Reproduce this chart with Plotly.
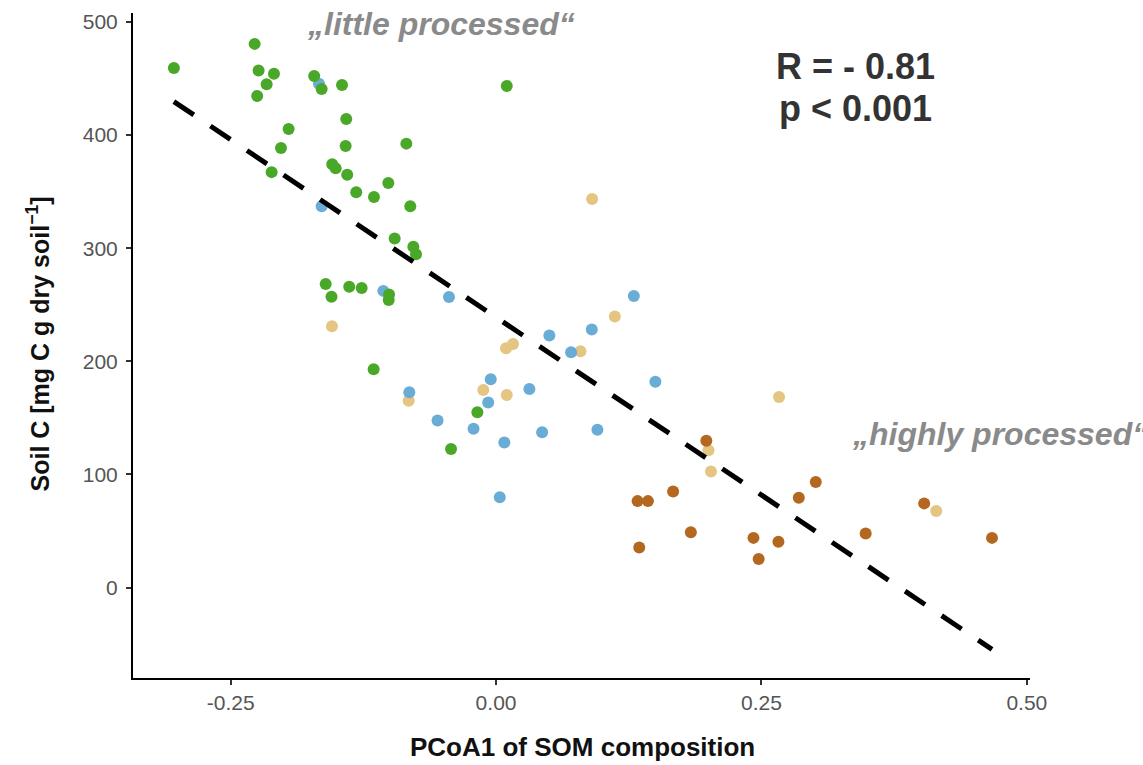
import plotly.graph_objects as go

# PCoA1 score vs soil carbon, grouped by sample class
green_x = [-0.3035, -0.2274, -0.2237, -0.2092, -0.2161, -0.2250, -0.1713, -0.1643, -0.1451,
           0.0101, -0.1411, -0.1954, -0.2026, -0.1417, -0.0845, -0.2114, -0.1543, -0.1511,
           -0.1402, -0.1317, -0.1015, -0.1150, -0.0808, -0.0955, -0.0779, -0.0754, -0.1605,
           -0.1383, -0.1266, -0.1008, -0.1011, -0.1550, -0.1153, -0.0176, -0.0424]
green_y = [459.3, 480.7, 457.2, 454.3, 444.9, 434.7, 452.3, 440.9, 444.4,
           443.5, 414.2, 405.4, 388.7, 390.4, 392.5, 367.3, 374.3, 370.8,
           364.9, 349.5, 357.6, 345.3, 337.2, 308.7, 301.4, 294.6, 268.3,
           266.0, 264.8, 259.0, 254.2, 257.2, 193.1, 154.9, 122.4]

blue_x = [-0.1668, -0.1643, -0.1062, -0.0443, 0.1298, 0.0502, 0.0902, 0.0707, 0.1501, -0.0050,
          0.0314, -0.0074, -0.0817, -0.0551, -0.0212, 0.0434, 0.0955, 0.0078, 0.0035]
blue_y = [445.5, 337.2, 262.3, 256.8, 257.7, 222.9, 228.2, 208.0, 181.9, 184.1,
          175.5, 163.7, 172.7, 147.6, 140.4, 137.3, 139.5, 128.3, 79.8]

tan_x = [-0.1546, 0.0094, 0.0160, 0.1119, 0.0795, -0.0120, 0.0101, -0.0823, 0.0905,
         0.2001, 0.2025, 0.2666, 0.4147]
tan_y = [231.1, 211.5, 215.3, 239.6, 208.9, 174.7, 170.2, 165.2, 343.6,
         121.3, 102.6, 168.5, 67.7]

brown_x = [0.1981, 0.1333, 0.1431, 0.1668, 0.3012, 0.2852, 0.4033, 0.1835, 0.1349,
           0.2425, 0.2660, 0.2474, 0.3482, 0.4672]
brown_y = [129.8, 76.4, 76.4, 85.0, 93.4, 79.3, 74.4, 48.9, 35.4,
           43.9, 40.4, 25.2, 47.7, 43.9]

# Linear regression line end points
fit_x = [-0.3035, 0.4672]
fit_y = [429.7, -54.7]

x_ticks = [-0.25, 0.0, 0.25, 0.5]
x_tick_labels = ["-0.25", "0.00", "0.25", "0.50"]
y_ticks = [0, 100, 200, 300, 400, 500]
y_tick_labels = ["0", "100", "200", "300", "400", "500"]

FONT = "Liberation Sans, Arial, sans-serif"

# plot area in pixels
L, R, T, B, W, H = 133, 113, 10, 87, 1143, 765
PW, PH = W - L - R, H - T - B


def px(xpix):
    return (xpix - L) / PW


def py(ypix):
    return (H - B - ypix) / PH


groups = [
    (tan_x, tan_y, "#e4c581"),
    (blue_x, blue_y, "#69add6"),
    (green_x, green_y, "#4aa829"),
    (brown_x, brown_y, "#b4671f"),
]

fig = go.Figure()
for gx, gy, col in groups:
    fig.add_trace(go.Scatter(
        x=gx, y=gy, mode="markers",
        marker=dict(size=12, color=col, line=dict(width=0)),
        showlegend=False, hoverinfo="x+y",
    ))

fig.add_trace(go.Scatter(
    x=fit_x, y=fit_y, mode="lines",
    line=dict(color="black", width=5, dash="24px,20px"),
    showlegend=False, hoverinfo="skip",
))

axis_common = dict(
    showgrid=False, zeroline=False,
    showline=True, linecolor="black", linewidth=2,
    ticks="outside", ticklen=5, tickwidth=2, tickcolor="#333333",
    tickfont=dict(size=21, color="#555555", family=FONT),
)

fig.update_layout(
    width=W, height=H,
    margin=dict(l=L, r=R, t=T, b=B),
    paper_bgcolor="white", plot_bgcolor="white",
    font=dict(family=FONT, color="#4d4d4d"),
    xaxis=dict(range=[-0.342, 0.503], tickvals=x_ticks, ticktext=x_tick_labels, **axis_common),
    yaxis=dict(range=[-80, 508], tickvals=y_ticks, ticktext=y_tick_labels,
               ticklabelstandoff=4, **axis_common),
)

# axis titles
fig.add_annotation(
    xref="paper", yref="paper", x=px(582), y=py(747),
    text="<b>PCoA1 of SOM composition</b>", showarrow=False,
    font=dict(size=26, color="#111111", family=FONT),
    xanchor="center", yanchor="middle",
)
fig.add_annotation(
    xref="paper", yref="paper", x=px(38), y=py(343),
    text="<b>Soil C [mg C g dry soil<sup>−1</sup>]</b>", showarrow=False,
    textangle=-90,
    font=dict(size=25, color="#111111", family=FONT),
    xanchor="center", yanchor="middle",
)

# group labels
fig.add_annotation(
    xref="paper", yref="paper", x=px(441), y=py(21),
    text="<b><i>„little processed“</i></b>", showarrow=False,
    font=dict(size=32, color="#8a8a8a", family=FONT),
    xanchor="center", yanchor="middle",
)
fig.add_annotation(
    xref="paper", yref="paper", x=px(850), y=py(433),
    text="<b><i>„highly processed“</i></b>", showarrow=False,
    font=dict(size=32, color="#8a8a8a", family=FONT),
    xanchor="left", yanchor="middle",
)

# correlation statistics
fig.add_annotation(
    xref="paper", yref="paper", x=px(855), y=py(64),
    text="<b>R = - 0.81</b>", showarrow=False,
    font=dict(size=36, color="#333333", family=FONT),
    xanchor="center", yanchor="middle",
)
fig.add_annotation(
    xref="paper", yref="paper", x=px(855), y=py(106),
    text="<b>p < 0.001</b>", showarrow=False,
    font=dict(size=36, color="#333333", family=FONT),
    xanchor="center", yanchor="middle",
)

fig.write_html("out.html")
